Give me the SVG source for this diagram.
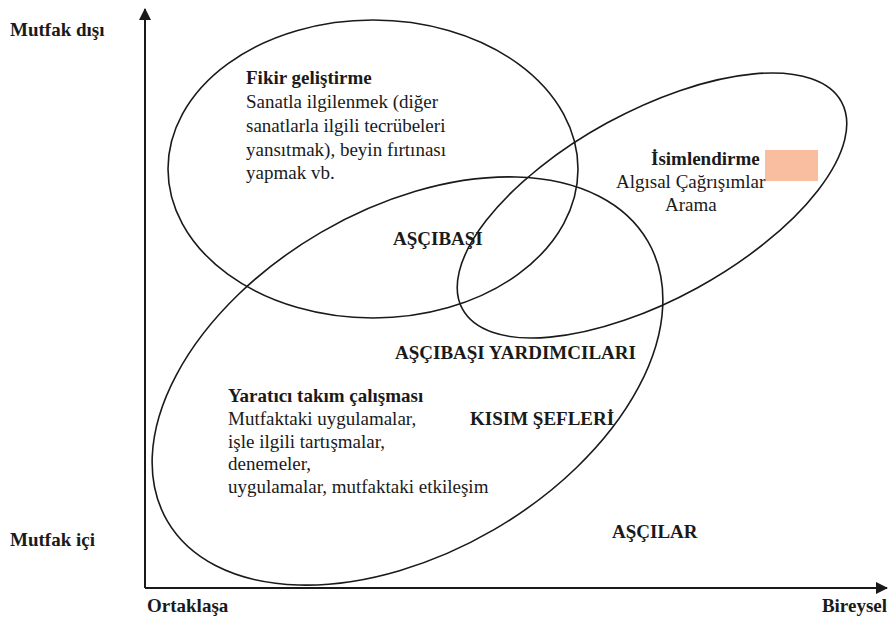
<svg xmlns="http://www.w3.org/2000/svg" width="889" height="624" viewBox="0 0 889 624">
<style>
text{font-family:'Liberation Serif','Times New Roman','DejaVu Serif',serif;font-size:19px;fill:#1a1a1a}
.b{font-weight:bold}
.ell{fill:none;stroke:#1a1a1a;stroke-width:1.6}
.ax{stroke:#1a1a1a;stroke-width:2;fill:none}
</style>
<defs>
<marker id="arr" viewBox="0 0 12 12" refX="11" refY="6" markerWidth="12" markerHeight="12" markerUnits="userSpaceOnUse" orient="auto">
<path d="M0,0 L12,6 L0,12 z" fill="#1a1a1a"/>
</marker>
</defs>
<rect width="889" height="624" fill="#ffffff"/>
<g id="connectors">
<path class="ax" d="M145,588 L145,9" marker-end="url(#arr)"/>
<path class="ax" d="M145,588 L887,588" marker-end="url(#arr)"/>
</g>
<g id="axis-labels" font-family="Liberation Serif, serif">
<text class="b" x="10" y="36">Mutfak dışı</text>
<text class="b" x="10" y="546">Mutfak içi</text>
<text class="b" x="147" y="612">Ortaklaşa</text>
<text class="b" x="887" y="612" text-anchor="end">Bireysel</text>
</g>
<g id="fikir">
<ellipse class="ell" cx="373" cy="169" rx="205" ry="149"/>
<text class="b" x="246" y="84">Fikir geliştirme</text>
<text x="246" y="108">Sanatla ilgilenmek (diğer</text>
<text x="246" y="132">sanatlarla ilgili tecrübeleri</text>
<text x="246" y="156">yansıtmak), beyin fırtınası</text>
<text x="246" y="179">yapmak vb.</text>
</g>
<g id="isimlendirme">
<ellipse class="ell" cx="652" cy="205.5" rx="216" ry="94" transform="rotate(-28.7 652 205.5)"/>
<rect x="765" y="150" width="53" height="31" fill="#F9BDA0"/>
<text class="b" x="651" y="165">İsimlendirme</text>
<text x="616" y="188">Algısal Çağrışımlar</text>
<text x="665" y="211">Arama</text>
</g>
<g id="yaratici">
<ellipse class="ell" cx="407.5" cy="381" rx="278" ry="172" transform="rotate(-30.2 407.5 381)"/>
<text class="b" x="228" y="402">Yaratıcı takım çalışması</text>
<text x="228" y="425">Mutfaktaki uygulamalar,</text>
<text x="228" y="448">işle ilgili tartışmalar,</text>
<text x="228" y="470">denemeler,</text>
<text x="228" y="493">uygulamalar, mutfaktaki etkileşim</text>
</g>
<g id="roles">
<text class="b" x="393" y="245">AŞÇIBAŞI</text>
<text class="b" x="395" y="359">AŞÇIBAŞI YARDIMCILARI</text>
<text class="b" x="470" y="425">KISIM ŞEFLERİ</text>
<text class="b" x="612" y="538">AŞÇILAR</text>
</g>
</svg>
